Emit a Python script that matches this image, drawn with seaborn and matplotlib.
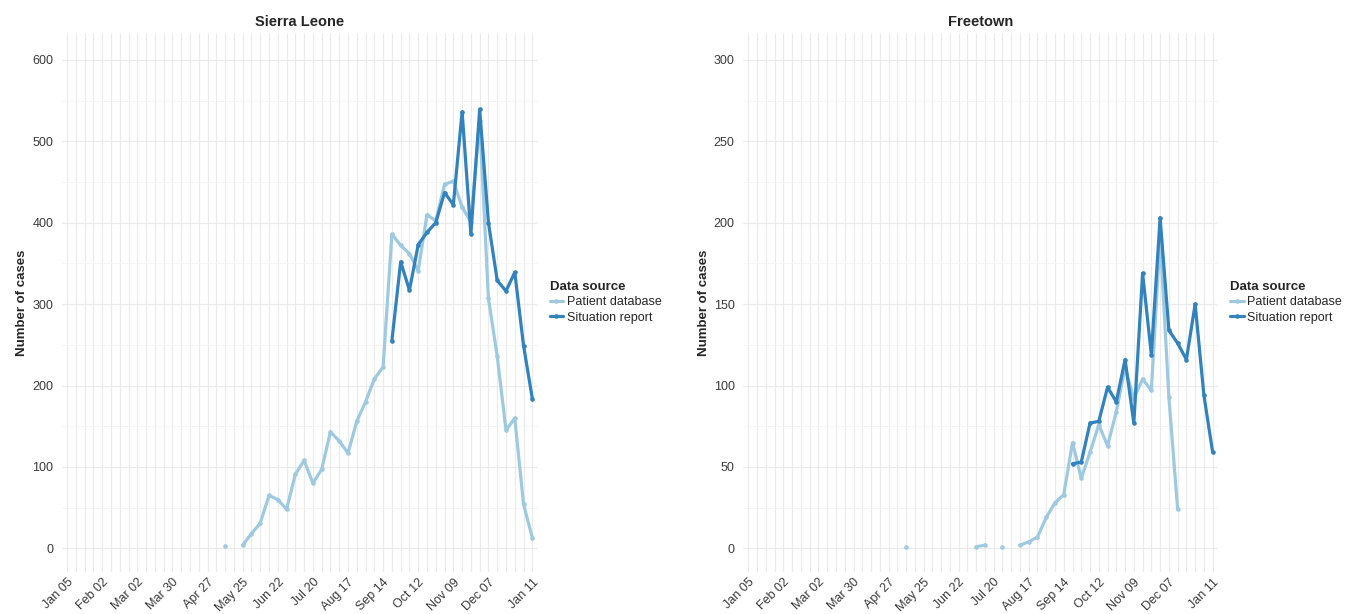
import numpy as np
import pandas as pd
import matplotlib
matplotlib.use("Agg")
import matplotlib.pyplot as plt
import seaborn as sns

nan = np.nan

# Weekly reporting dates (week starting Sunday)
weeks = pd.date_range("2014-01-05", "2015-01-11", freq="7D")

# Tick labels shown on the date axis
tick_labels = ["Jan 05", "Feb 02", "Mar 02", "Mar 30", "Apr 27", "May 25", "Jun 22",
               "Jul 20", "Aug 17", "Sep 14", "Oct 12", "Nov 09", "Dec 07", "Jan 11"]
tick_dates = pd.to_datetime(["2014-01-05", "2014-02-02", "2014-03-02", "2014-03-30",
                             "2014-04-27", "2014-05-25", "2014-06-22", "2014-07-20",
                             "2014-08-17", "2014-09-14", "2014-10-12", "2014-11-09",
                             "2014-12-07", "2015-01-11"])

sources = ["Patient database", "Situation report"]

# Sierra Leone weekly counts
sl_patient = [nan, nan, nan, nan, nan, nan, nan, nan, nan, nan,
              nan, nan, nan, nan, nan, nan, nan, nan, 3, nan,
              4, 18, 31, 65, 60, 48, 91, 108, 80, 97,
              143, 132, 117, 156, 180, 208, 223, 386, 372, 362,
              341, 410, 402, 447, 451, 419, 401, 525, 307, 236,
              145, 160, 54, 13]
sl_report = [nan, nan, nan, nan, nan, nan, nan, nan, nan, nan,
             nan, nan, nan, nan, nan, nan, nan, nan, nan, nan,
             nan, nan, nan, nan, nan, nan, nan, nan, nan, nan,
             nan, nan, nan, nan, nan, nan, nan, 255, 352, 317,
             373, 388, 400, 437, 422, 536, 386, 539, 400, 329,
             316, 339, 249, 184]

# Freetown weekly counts
ft_patient = [nan, nan, nan, nan, nan, nan, nan, nan, nan, nan,
              nan, nan, nan, nan, nan, nan, nan, nan, 1, nan,
              nan, nan, nan, nan, nan, nan, 1, 2, nan, 1,
              nan, 2, 4, 7, 19, 28, 33, 65, 43, 59,
              76, 63, 84, 111, 92, 104, 97, 191, 93, 24,
              nan, nan, nan, nan]
ft_report = [nan, nan, nan, nan, nan, nan, nan, nan, nan, nan,
             nan, nan, nan, nan, nan, nan, nan, nan, nan, nan,
             nan, nan, nan, nan, nan, nan, nan, nan, nan, nan,
             nan, nan, nan, nan, nan, nan, nan, 52, 53, 77,
             78, 99, 90, 116, 77, 169, 119, 203, 134, 126,
             116, 150, 94, 59]

palette = {"Patient database": "#9ECAE1", "Situation report": "#3182BD"}


def long_frame(series_by_source):
    """Stack series into long form; each unbroken run becomes its own unit so
    missing weeks show up as gaps in the line."""
    parts = []
    for src, vals in series_by_source.items():
        s = pd.Series(vals, index=weeks, dtype=float)
        run = s.isna().cumsum()
        df = pd.DataFrame({"date": weeks, "cases": s.values,
                           "Data source": src,
                           "segment": [f"{src}-{r}" for r in run]})
        parts.append(df.dropna(subset=["cases"]))
    return pd.concat(parts, ignore_index=True)


sns.set_theme(style="white")
plt.rcParams["font.family"] = ["Liberation Sans", "DejaVu Sans"]

fig = plt.figure(figsize=(13.48, 6.14), dpi=100)
ax1 = fig.add_axes([0.0458, 0.0684, 0.3531, 0.878])
ax2 = fig.add_axes([0.5512, 0.0684, 0.3524, 0.878])

panels = [
    (ax1, "Sierra Leone", {"Patient database": sl_patient, "Situation report": sl_report},
     (-29, 633), np.arange(0, 601, 100), np.arange(50, 601, 100)),
    (ax2, "Freetown", {"Patient database": ft_patient, "Situation report": ft_report},
     (-14.5, 316.6), np.arange(0, 301, 50), np.arange(25, 301, 50)),
]

pad = pd.Timedelta(days=4.3)
tick_color = "#3A3A3A"

for ax, title, series, ylim, ymajor, yminor in panels:
    df = long_frame(series)
    sns.lineplot(data=df, x="date", y="cases", hue="Data source", hue_order=sources,
                 units="segment", estimator=None, palette=palette,
                 marker="o", markersize=3.3, markeredgewidth=0, linewidth=2.3,
                 ax=ax)

    ax.set_xlim(weeks[0] - pad, weeks[-1] + pad)
    ax.set_ylim(*ylim)

    ax.set_xticks(tick_dates)
    ax.set_xticklabels(tick_labels, rotation=45, ha="right", rotation_mode="anchor",
                       fontsize=9, color=tick_color)
    ax.set_xticks(weeks, minor=True)
    ax.set_yticks(ymajor)
    ax.set_yticklabels([str(v) for v in ymajor], fontsize=9, color=tick_color)
    ax.set_yticks(yminor, minor=True)

    ax.grid(which="major", axis="both", color="#EBEBEB", linewidth=0.9)
    ax.grid(which="minor", axis="x", color="#EBEBEB", linewidth=0.9)
    ax.grid(which="minor", axis="y", color="#F5F5F5", linewidth=0.7)
    ax.set_axisbelow(True)
    ax.tick_params(which="both", length=0)
    ax.tick_params(axis="y", pad=6)
    ax.tick_params(axis="x", pad=3)
    for sp in ax.spines.values():
        sp.set_visible(False)

    ax.set_title(title, fontsize=10.5, fontweight="bold", pad=5)
    ax.set_xlabel("")
    ax.set_ylabel("Number of cases", fontsize=9.5, fontweight="bold", labelpad=3)

    leg = ax.legend(title="Data source", loc="center left", bbox_to_anchor=(1.025, 0.5),
                    frameon=False, fontsize=9, title_fontsize=9.5, borderpad=0,
                    borderaxespad=0, handlelength=1.1, handletextpad=0.3,
                    labelspacing=0.25, alignment="left")
    leg.get_title().set_fontweight("bold")
    for line in leg.get_lines():
        line.set_linewidth(2.3)

fig.savefig("out.png", dpi=100)
